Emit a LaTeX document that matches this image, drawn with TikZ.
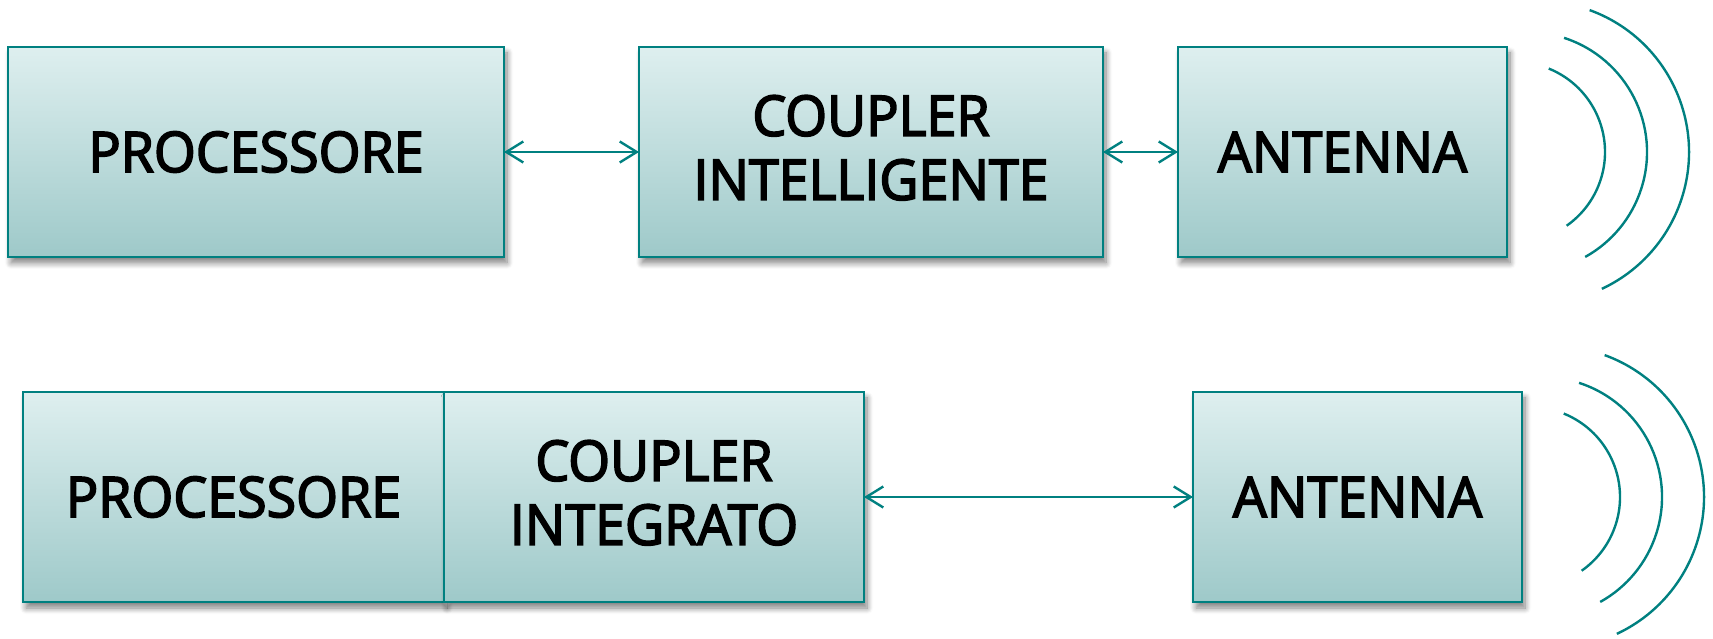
\documentclass[tikz,border=0pt]{standalone}
\usepackage{fontspec}
\setmainfont{Open Sans}[FakeStretch=0.96,FakeBold=3]
\usetikzlibrary{arrows.meta,shadows.blur}
\definecolor{tealc}{RGB}{0,128,128}
\definecolor{boxtop}{RGB}{222,239,239}
\definecolor{boxbot}{RGB}{158,201,201}
\tikzset{
  blk/.style={draw=tealc, line width=2.4pt, top color=boxtop, bottom color=boxbot,
    minimum height=210pt, inner sep=0pt, outer sep=0pt, align=center,
    font=\fontsize{56}{64}\selectfont, text=black,
    blur shadow={shadow xshift=3pt, shadow yshift=-6pt, shadow blur radius=6pt, shadow blur steps=8, shadow opacity=50}},
  twoline/.style={text depth=9pt},
  link/.style={draw=tealc, line width=2.4pt, {Straight Barb[length=17pt,width=21pt,line width=2.4pt]}-{Straight Barb[length=17pt,width=21pt,line width=2.4pt]}},
  wave/.style={draw=tealc, line width=2.4pt}
}
\begin{document}
\begin{tikzpicture}[x=1pt,y=1pt]
\useasboundingbox (0,0) rectangle (1713,638);
% top row
\node[blk, minimum width=496pt] (proc1) at (256,486) {PROCESSORE};
\node[blk, twoline, minimum width=464pt] (coup1) at (871,486) {COUPLER\\INTELLIGENTE};
\node[blk, minimum width=329pt] (ant1) at (1342.5,486) {ANTENNA};
\draw[link] (proc1.east) -- (coup1.west);
\draw[link] (coup1.east) -- (ant1.west);
\draw[wave] (ant1.east) ++(8,0) ++(68:90) arc[start angle=68, end angle=-55, radius=90];
\draw[wave] (ant1.east) ++(20,0) ++(72:120) arc[start angle=72, end angle=-61, radius=120];
\draw[wave] (ant1.east) ++(31,0) ++(70:151) arc[start angle=70, end angle=-65, radius=151];
% bottom row
\node[blk, minimum width=421pt] (proc2) at (233.5,141) {PROCESSORE};
\node[blk, twoline, minimum width=420pt] (coup2) at (654,141) {COUPLER\\INTEGRATO};
\node[blk, minimum width=329pt] (ant2) at (1357.5,141) {ANTENNA};
\draw[link] (coup2.east) -- (ant2.west);
\draw[wave] (ant2.east) ++(8,0) ++(68:90) arc[start angle=68, end angle=-55, radius=90];
\draw[wave] (ant2.east) ++(20,0) ++(72:120) arc[start angle=72, end angle=-61, radius=120];
\draw[wave] (ant2.east) ++(31,0) ++(70:151) arc[start angle=70, end angle=-65, radius=151];
\end{tikzpicture}
\end{document}
